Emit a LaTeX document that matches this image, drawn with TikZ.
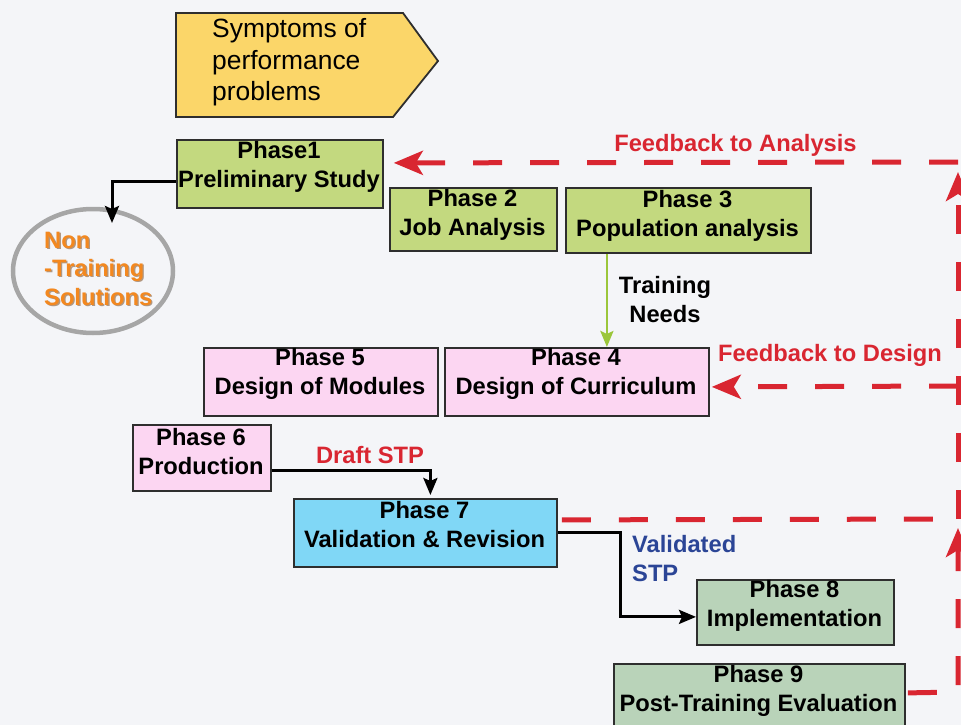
\documentclass[tikz,border=0pt]{standalone}
\usepackage{fontspec}
\setmainfont{Liberation Sans}
\usetikzlibrary{shapes.geometric,arrows.meta}
\definecolor{bg}{HTML}{F4F5F8}
\definecolor{boxline}{HTML}{2E2E2E}
\definecolor{yel}{HTML}{FBD669}
\definecolor{grnfill}{HTML}{C3D97F}
\definecolor{pinkfill}{HTML}{FCD6F2}
\definecolor{bluefill}{HTML}{80D7F6}
\definecolor{sagefill}{HTML}{B9D3B9}
\definecolor{fbred}{HTML}{D92631}
\definecolor{orng}{HTML}{F3881F}
\definecolor{orngshadow}{HTML}{7A4A20}
\definecolor{stpblue}{HTML}{2B4596}
\definecolor{tngreen}{HTML}{9BC63B}
\definecolor{ellgray}{HTML}{A6A6A6}
\begin{document}
\begin{tikzpicture}[x=1pt,y=-1pt,
  box/.style={draw=boxline, line width=1.8pt, inner sep=0pt, anchor=north west},
  lbl/.style={align=center, inner sep=0pt, font=\bfseries\fontsize{23.7}{29}\selectfont},
  redlbl/.style={lbl, text=fbred},
  blk/.style={draw=black, line width=3pt, -{Stealth[length=17pt,width=14pt,inset=3pt]}},
  grnarrow/.style={draw=tngreen, line width=2.8pt, -{Stealth[length=16pt,width=13pt,inset=3pt]}},
  fb/.style={draw=fbred, line width=5pt, dash pattern=on 29pt off 28pt},
  fbtip/.style={-{Stealth[length=29pt,width=24pt,inset=7pt]}}
]
\useasboundingbox (0,0) rectangle (961,725);
\clip (0,0) rectangle (961,725);
\fill[bg] (0,0) rectangle (961,725);

% symptoms pentagon
\draw[fill=yel, draw=boxline, line width=1.8pt, line join=miter]
  (176,13) -- (403,13) -- (438,61) -- (393,117) -- (176,117) -- cycle;
\node[anchor=west, align=left, inner sep=0pt, font=\fontsize{26.4}{31.5}\selectfont] (sym) at (212,62.5)
  {Symptoms of\\performance\\problems};

% boxes
\node[box, fill=grnfill, minimum width=206pt, minimum height=68pt] (p1) at (176,139) {};
\node[box, fill=grnfill, minimum width=167pt, minimum height=63pt] (p2) at (389,187) {};
\node[box, fill=grnfill, minimum width=245pt, minimum height=65pt] (p3) at (565,187) {};
\node[box, fill=pinkfill, minimum width=234pt, minimum height=68pt] (p5) at (203,347) {};
\node[box, fill=pinkfill, minimum width=264pt, minimum height=68pt] (p4) at (444,347) {};
\node[box, fill=pinkfill, minimum width=138pt, minimum height=66pt] (p6) at (132,424) {};
\node[box, fill=bluefill, minimum width=263pt, minimum height=68pt] (p7) at (293,498) {};
\node[box, fill=sagefill, minimum width=197pt, minimum height=65pt] (p8) at (696,579) {};
\node[box, fill=sagefill, minimum width=291pt, minimum height=67pt] (p9) at (613,663) {};

% box texts
\node[lbl] (t1) at (279,167) {Phase1\\Preliminary Study};
\node[lbl] (t2) at (472.5,215) {Phase 2\\Job Analysis};
\node[lbl] (t3) at (687.5,216) {Phase 3\\Population analysis};
\node[lbl] (t5) at (320,374) {Phase 5\\Design of Modules};
\node[lbl] (t4) at (576,374) {Phase 4\\Design of Curriculum};
\node[lbl] (t6) at (201,452) {Phase 6\\Production};
\node[lbl] (t7) at (424.5,525) {Phase 7\\Validation \& Revision};
\node[lbl] (t8) at (794.5,606) {Phase 8\\Implementation};
\node[lbl] (t9) at (758.5,691) {Phase 9\\Post-Training Evaluation};

% non-training ellipse
\node[ellipse, draw=ellgray, line width=4.5pt, minimum width=160pt, minimum height=124pt] (ell) at (93,271) {};
\node[anchor=west, align=left, inner sep=0pt, font=\bfseries\fontsize{23.7}{28.5}\selectfont, text=orngshadow, opacity=0.55] (ntshadow) at (45.3,269.8)
  {Non\\-Training\\Solutions};
\node[anchor=west, align=left, inner sep=0pt, font=\bfseries\fontsize{23.7}{28.5}\selectfont, text=orng] (nt) at (44,268.5)
  {Non\\-Training\\Solutions};
\coordinate (ehit) at (112,223);

% labels
\node[lbl] (tn) at (665,300) {Training\\Needs};
\node[redlbl] (fba) at (735.5,145) {Feedback to Analysis};
\node[redlbl] (fbd) at (830,355) {Feedback to Design};
\node[redlbl] (dstp) at (370,455) {Draft STP};
\node[lbl, align=left, anchor=west, text=stpblue] (vstp) at (632,559) {Validated\\STP};

% black and green connectors
\draw[blk] ([yshift=-8pt]p1.west) -| (ehit);
\draw[grnarrow] ([xshift=-81.5pt]p3.south) -- ([xshift=30pt]p4.north);
\draw[blk] ([yshift=-13pt]p6.east) -| ([xshift=5pt,yshift=3pt]p7.north);
\draw[blk] (p7.east) -- ++(63,0) |- ([yshift=-4.5pt]p8.west);

% feedback loop
\coordinate (rtop) at (958,162);
\coordinate (rmid) at (958,386);
\coordinate (r7) at (958,519);
\coordinate (r9) at (958,692);
\draw[fb] ([yshift=13pt,xshift=4pt]p7.east) -- (r7);
\draw[fb, fbtip] (r7) -- ([yshift=-10pt]rtop);
\draw[fb, fbtip] (rtop) -- ([xshift=10pt,yshift=11pt]p1.east);
\draw[fb, fbtip] (rmid) -- ([xshift=2pt,yshift=-5pt]p4.east);
\draw[fb, fbtip] ([xshift=2pt,yshift=4.5pt]p9.east) -- (r9) -- ([yshift=-9pt]r7);
\end{tikzpicture}
\end{document}
